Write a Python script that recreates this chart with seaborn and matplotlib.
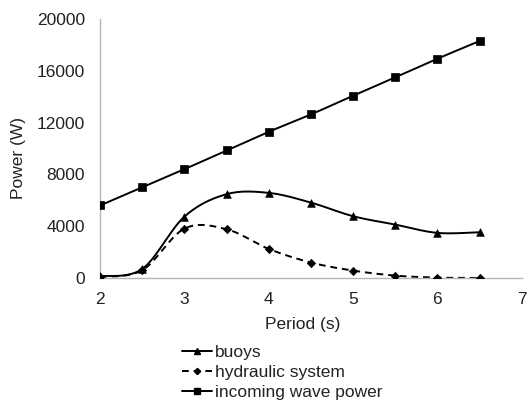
import numpy as np
import pandas as pd
import matplotlib
matplotlib.use("Agg")
import matplotlib.pyplot as plt
from matplotlib.lines import Line2D
import seaborn as sns

period = [2.0, 2.5, 3.0, 3.5, 4.0, 4.5, 5.0, 5.5, 6.0, 6.5]
buoys = [130, 700, 4740, 6470, 6570, 5820, 4770, 4120, 3480, 3530]
hydraulic = [80, 600, 3810, 3760, 2240, 1190, 570, 180, 30, 0]
incoming = [5600, 7000, 8400, 9850, 11290, 12630, 14070, 15490, 16930, 18300]
x_ticks = [2, 3, 4, 5, 6, 7]
y_ticks = [0, 4000, 8000, 12000, 16000, 20000]
labels = ["buoys", "hydraulic system", "incoming wave power"]


def smooth(xs, ys, n=30):
    # Catmull-Rom rendering of the line through the data points (like Excel's smoothed line)
    xs = np.asarray(xs, float)
    ys = np.asarray(ys, float)
    px = np.concatenate([[xs[0]], xs, [xs[-1]]])
    py = np.concatenate([[ys[0]], ys, [ys[-1]]])
    ox, oy = [], []
    for i in range(1, len(px) - 2):
        t = np.linspace(0, 1, n, endpoint=False)
        for p, out in ((px, ox), (py, oy)):
            p0, p1, p2, p3 = p[i - 1], p[i], p[i + 1], p[i + 2]
            out.extend(0.5 * ((2 * p1) + (-p0 + p2) * t
                              + (2 * p0 - 5 * p1 + 4 * p2 - p3) * t ** 2
                              + (-p0 + 3 * p1 - 3 * p2 + p3) * t ** 3))
    ox.append(xs[-1]); oy.append(ys[-1])
    return np.array(ox), np.array(oy)


sns.set_theme(style="white")
plt.rcParams["font.family"] = ["Liberation Sans", "DejaVu Sans"]

fig = plt.figure(figsize=(5.27, 4.04), dpi=100)
ax = fig.add_axes([0.19, 0.312, 0.80, 0.641])

specs = [
    (buoys, "-", "^", 30),
    (hydraulic, (0, (3.5, 2.5)), "D", 18),
    (incoming, "-", "s", 26),
]
handles = []
for (vals, ls, mk, s), lab in zip(specs, labels):
    sx, sy = smooth(period, vals)
    df_line = pd.DataFrame({"x": sx, "y": sy})
    sns.lineplot(data=df_line, x="x", y="y", sort=False, color="black",
                 linewidth=1.4, linestyle=ls, ax=ax, legend=False)
    df_pts = pd.DataFrame({"x": period, "y": vals})
    sns.scatterplot(data=df_pts, x="x", y="y", marker=mk, color="black",
                    s=s, edgecolor="black", linewidth=0.5, ax=ax, legend=False, zorder=3)
    handles.append(Line2D([], [], color="black", linestyle=ls, linewidth=1.4,
                          marker=mk, markersize=4.0 if mk != "D" else 3.2))

ax.set_xlim(2, 7)
ax.set_ylim(0, 20000)
ax.set_xticks(x_ticks)
ax.set_yticks(y_ticks)
ax.set_xticklabels([str(v) for v in x_ticks])
ax.set_yticklabels([str(v) for v in y_ticks])

for side in ["top", "right"]:
    ax.spines[side].set_visible(False)
for side in ["left", "bottom"]:
    ax.spines[side].set_color("#b5b5b5")
    ax.spines[side].set_linewidth(1.0)

ax.tick_params(axis="both", direction="in", length=4, width=0.8, color="#b5b5b5",
               labelsize=12.5, labelcolor="#222222")
ax.tick_params(axis="y", pad=11)
ax.tick_params(axis="x", pad=10)
ax.set_xlabel("Period (s)", fontsize=12.5, color="#222222")
ax.set_ylabel("Power (W)", fontsize=12.5, color="#222222")
ax.xaxis.set_label_coords(0.481, -0.152)
ax.yaxis.set_label_coords(-0.175, 0.463)

fig.legend(handles=handles, labels=labels, loc="upper left",
           bbox_to_anchor=(182 / 527, 1 - 345 / 404), frameon=False,
           fontsize=12.5, handlelength=1.75, handletextpad=0.14,
           labelspacing=0.28, borderpad=0, borderaxespad=0, labelcolor="#222222")

fig.savefig("out.png", dpi=100, facecolor="white")
